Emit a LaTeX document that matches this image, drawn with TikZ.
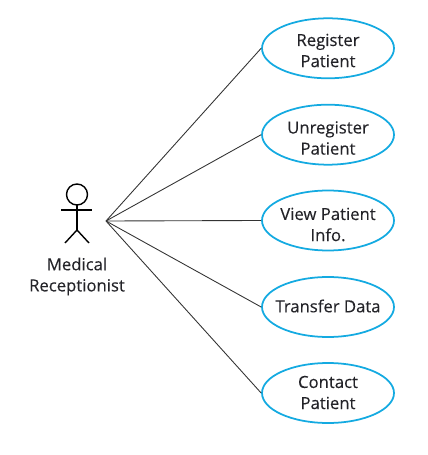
\documentclass[tikz,border=0pt]{standalone}
\usepackage{fontspec}
\setmainfont{Open Sans}[FakeBold=0.2]
\usetikzlibrary{shapes.geometric}
\definecolor{usecaseblue}{RGB}{20,170,225}
\definecolor{inktext}{RGB}{35,35,40}

\begin{document}
\begin{tikzpicture}[x=0.02cm, y=-0.02cm,
    usecase/.style={ellipse, draw=usecaseblue, line width=1pt, minimum width=2.64cm, minimum height=1.2cm, inner sep=0pt},
    caption/.style={align=center, inner sep=0pt, font=\fontsize{9.5}{12}\selectfont, text=inktext},
    link/.style={draw=black!80, line width=0.5pt},
    stick/.style={draw=black, line width=0.8pt}]

    % 1. Fix the page size
    \useasboundingbox (0,0) rectangle (428,455);

    % 2. The use cases, with their texts set apart from the centre of each ellipse
    \node[usecase] (register) at (328,48.3) {};
    \node[usecase] (unregister) at (328,134.7) {};
    \node[usecase] (view) at (328,220.5) {};
    \node[usecase] (transfer) at (328,307) {};
    \node[usecase] (contact) at (328,393) {};
    \node[caption] (registertext) at (328,50.5) {Register\\Patient};
    \node[caption] (unregistertext) at (328,138) {Unregister\\Patient};
    \node[caption] (viewtext) at (328,224.5) {View Patient\\Info.};
    \node[caption] (transfertext) at (328,306) {Transfer Data};
    \node[caption] (contacttext) at (328,392.5) {Contact\\Patient};

    % 3. The actor
    \draw[stick] (77,194.5) circle (10.5);
    \draw[stick] (77,205) -- (77,230);
    \draw[stick] (61,210) -- (92,210);
    \draw[stick] (65,243) -- (77,230) -- (89,243);
    \node[caption] (actor) at (77,276.5) {Medical\\Receptionist};

    % 4. The links from the actor
    \coordinate (hub) at (106,221);
    \foreach \uc in {register, unregister, view, transfer, contact}
        \draw[link] (hub) -- (\uc.west);
\end{tikzpicture}
\end{document}
